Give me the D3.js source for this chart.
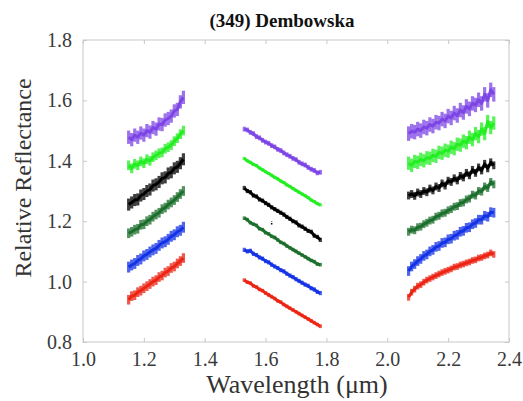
<!DOCTYPE html>
<html>
<head>
<meta charset="utf-8">
<script src="https://cdn.jsdelivr.net/npm/d3@7"></script>
<style>
  body { margin: 0; background: #fff; }
  svg text { font-family: "Liberation Serif", "Times New Roman", serif !important; }
</style>
</head>
<body>
<svg id="chart" width="523" height="401"></svg>
<script>
// ---- data ----
const bandJ = [1.15,1.16,1.17,1.18,1.19,1.20,1.21,1.22,1.23,1.24,1.25,1.26,1.27,1.28,1.29,1.30,1.31,1.32,1.33];
const bandH = [1.53,1.54,1.55,1.56,1.57,1.58,1.59,1.60,1.61,1.62,1.63,1.64,1.65,1.66,1.67,1.68,1.69,1.70,1.71,1.72,1.73,1.74,1.75,1.76,1.77,1.78];
const bandK = [2.07,2.08,2.09,2.10,2.11,2.12,2.13,2.14,2.15,2.16,2.17,2.18,2.19,2.20,2.21,2.22,2.23,2.24,2.25,2.26,2.27,2.28,2.29,2.30,2.31,2.32,2.33,2.34,2.35];

const seriesNames = ["purple", "green", "black", "darkgreen", "blue", "red"];
const seriesColors = ["#7d45e6", "#22ee22", "#000000", "#1b6e2c", "#1432e6", "#ec2414"];

// J band
const purpleJ = [1.478,1.470,1.485,1.478,1.492,1.485,1.500,1.495,1.510,1.505,1.522,1.520,1.535,1.540,1.548,1.565,1.570,1.595,1.610];
const greenJ = [1.385,1.375,1.390,1.385,1.398,1.392,1.405,1.400,1.412,1.418,1.425,1.428,1.440,1.445,1.452,1.465,1.475,1.488,1.500];
const blackJ = [1.255,1.262,1.270,1.272,1.285,1.290,1.300,1.305,1.318,1.322,1.330,1.342,1.345,1.358,1.362,1.375,1.380,1.392,1.405];
const dkgreenJ = [1.160,1.165,1.172,1.175,1.188,1.190,1.200,1.205,1.215,1.222,1.228,1.240,1.245,1.255,1.262,1.270,1.280,1.290,1.300];
const blueJ = [1.048,1.055,1.060,1.070,1.075,1.085,1.090,1.098,1.105,1.110,1.120,1.128,1.132,1.140,1.150,1.155,1.165,1.170,1.180];
const redJ = [0.940,0.952,0.955,0.965,0.970,0.978,0.985,0.992,1.000,1.005,1.015,1.020,1.030,1.035,1.045,1.050,1.060,1.068,1.078];

// H band
const purpleH = [1.505,1.502,1.494,1.490,1.480,1.476,1.468,1.462,1.458,1.450,1.446,1.438,1.434,1.426,1.420,1.415,1.408,1.404,1.395,1.390,1.386,1.378,1.372,1.368,1.360,1.362];
const greenH = [1.408,1.400,1.395,1.388,1.384,1.376,1.370,1.364,1.358,1.352,1.345,1.340,1.333,1.328,1.320,1.315,1.308,1.302,1.296,1.290,1.284,1.278,1.270,1.265,1.258,1.254];
const blackH = [1.310,1.300,1.296,1.285,1.282,1.272,1.268,1.260,1.254,1.246,1.240,1.234,1.228,1.222,1.214,1.208,1.200,1.196,1.186,1.182,1.175,1.168,1.165,1.152,1.148,1.138];
const dkgreenH = [1.210,1.205,1.195,1.190,1.186,1.175,1.172,1.162,1.158,1.150,1.146,1.138,1.130,1.126,1.118,1.112,1.106,1.100,1.094,1.088,1.082,1.076,1.070,1.066,1.058,1.056];
const blueH = [1.105,1.100,1.102,1.092,1.088,1.080,1.076,1.068,1.064,1.056,1.050,1.045,1.038,1.034,1.026,1.020,1.015,1.008,1.002,0.996,0.990,0.986,0.978,0.974,0.966,0.962];
const redH = [1.005,0.998,0.995,0.986,0.982,0.974,0.970,0.962,0.956,0.950,0.944,0.936,0.932,0.924,0.918,0.912,0.906,0.900,0.894,0.888,0.882,0.876,0.870,0.864,0.858,0.852];

// K band
const purpleK = [1.490,1.498,1.495,1.505,1.500,1.512,1.508,1.520,1.515,1.528,1.525,1.538,1.532,1.548,1.542,1.558,1.550,1.568,1.560,1.580,1.572,1.590,1.585,1.602,1.590,1.620,1.600,1.635,1.620];
const greenK = [1.392,1.385,1.398,1.395,1.405,1.400,1.410,1.408,1.418,1.415,1.428,1.425,1.435,1.432,1.445,1.440,1.455,1.452,1.465,1.460,1.478,1.470,1.490,1.480,1.505,1.490,1.530,1.510,1.525];
const blackK = [1.285,1.290,1.284,1.295,1.290,1.300,1.296,1.308,1.302,1.315,1.310,1.325,1.318,1.334,1.330,1.342,1.335,1.350,1.345,1.360,1.352,1.370,1.360,1.378,1.368,1.390,1.375,1.395,1.385];
const dkgreenK = [1.165,1.172,1.170,1.180,1.182,1.190,1.195,1.202,1.205,1.215,1.218,1.226,1.228,1.236,1.240,1.248,1.250,1.260,1.262,1.272,1.275,1.288,1.285,1.300,1.298,1.315,1.310,1.330,1.322];
const blueK = [1.035,1.050,1.058,1.068,1.075,1.085,1.090,1.100,1.105,1.115,1.118,1.128,1.130,1.140,1.142,1.152,1.155,1.165,1.168,1.178,1.180,1.190,1.194,1.205,1.205,1.218,1.215,1.230,1.228];
const redK = [0.948,0.965,0.975,0.985,0.990,0.998,1.005,1.010,1.015,1.020,1.025,1.030,1.034,1.038,1.042,1.048,1.050,1.055,1.058,1.062,1.065,1.070,1.072,1.078,1.080,1.085,1.088,1.095,1.090];

// typical scatter (half width) per series, J / H / K
const errJ = [0.022, 0.016, 0.020, 0.016, 0.018, 0.016];
const errH = [0.008, 0.005, 0.007, 0.006, 0.007, 0.006];
const errK = [0.024, 0.022, 0.013, 0.013, 0.016, 0.011];

// stray point in the black H spectrum
const strayX = [1.62];
const strayY = [1.195];

const xTicks = [1.0, 1.2, 1.4, 1.6, 1.8, 2.0, 2.2, 2.4];
const yTicks = [0.8, 1.0, 1.2, 1.4, 1.6, 1.8];

const valsJ = [purpleJ, greenJ, blackJ, dkgreenJ, blueJ, redJ];
const valsH = [purpleH, greenH, blackH, dkgreenH, blueH, redH];
const valsK = [purpleK, greenK, blackK, dkgreenK, blueK, redK];

// ---- chart ----
const svg = d3.select("#chart");
const margin = {left: 83, right: 14, top: 40, bottom: 59};
const W = 523, H = 401;

const x = d3.scaleLinear().domain([1.0, 2.4]).range([margin.left, W - margin.right]);
const y = d3.scaleLinear().domain([0.8, 1.8]).range([H - margin.bottom, margin.top]);

// frame
svg.append("rect")
  .attr("x", x(1.0)).attr("y", y(1.8))
  .attr("width", x(2.4) - x(1.0)).attr("height", y(0.8) - y(1.8))
  .attr("fill", "none").attr("stroke", "#c8c8c8").attr("stroke-width", 1);

// axes with inward ticks
const xAxis = svg.append("g").attr("transform", `translate(0,${y(0.8)})`)
  .call(d3.axisBottom(x).tickValues(xTicks).tickSize(-4).tickPadding(8).tickFormat(d3.format(".1f")));
const xTop = svg.append("g").attr("transform", `translate(0,${y(1.8)})`)
  .call(d3.axisTop(x).tickValues(xTicks).tickSize(-4).tickFormat(""));
const yAxis = svg.append("g").attr("transform", `translate(${x(1.0)},0)`)
  .call(d3.axisLeft(y).tickValues(yTicks).tickSize(-4).tickPadding(11).tickFormat(d3.format(".1f")));
const yRight = svg.append("g").attr("transform", `translate(${x(2.4)},0)`)
  .call(d3.axisRight(y).tickValues(yTicks).tickSize(-4).tickFormat(""));

[xAxis, xTop, yAxis, yRight].forEach(g => {
  g.attr("font-family", null);
  g.select(".domain").remove();
  g.selectAll("line").attr("stroke", "#c8c8c8");
  g.selectAll("text").attr("font-size", 20).attr("fill", "#3a3a3a");
});
xAxis.selectAll("text").attr("dy", "0.8em");

// spectra
const bands = [[bandJ, valsJ, errJ], [bandH, valsH, errH], [bandK, valsK, errK]];
const line = d3.line().x(d => x(d[0])).y(d => y(d[1]));

bands.forEach(([wl, vals, errs]) => {
  vals.forEach((v, s) => {
    const pts = wl.map((w, i) => [w, v[i]]);
    const g = svg.append("g").attr("class", "spec-" + seriesNames[s]);
    g.selectAll("line.err").data(pts).join("line")
      .attr("class", "err")
      .attr("x1", d => x(d[0])).attr("x2", d => x(d[0]))
      .attr("y1", d => y(d[1] - errs[s])).attr("y2", d => y(d[1] + errs[s]))
      .attr("stroke", seriesColors[s]).attr("stroke-width", 3.2).attr("opacity", 0.75);
    g.append("path").datum(pts)
      .attr("d", line)
      .attr("fill", "none").attr("stroke", seriesColors[s])
      .attr("stroke-width", 3).attr("stroke-linejoin", "round");
  });
});

svg.selectAll("line.stray").data(strayX).join("line")
  .attr("class", "stray")
  .attr("x1", d => x(d)).attr("x2", d => x(d))
  .attr("y1", (d, i) => y(strayY[i] - 0.006)).attr("y2", (d, i) => y(strayY[i] + 0.006))
  .attr("stroke", "#000").attr("stroke-width", 1.5).attr("stroke-dasharray", "1.5,1.5");

// labels
svg.append("text").attr("x", 282).attr("y", 27).attr("text-anchor", "middle")
  .attr("font-size", 19).attr("font-weight", "bold").attr("fill", "#111")
  .text("(349) Dembowska");

svg.append("text").attr("x", 297).attr("y", 393).attr("text-anchor", "middle")
  .attr("font-size", 26).attr("fill", "#333")
  .text("Wavelength (μm)");

svg.append("text").attr("transform", "translate(31,178) rotate(-90)")
  .attr("text-anchor", "middle").attr("font-size", 24).attr("fill", "#333")
  .text("Relative Reflectance");
</script>
</body>
</html>
